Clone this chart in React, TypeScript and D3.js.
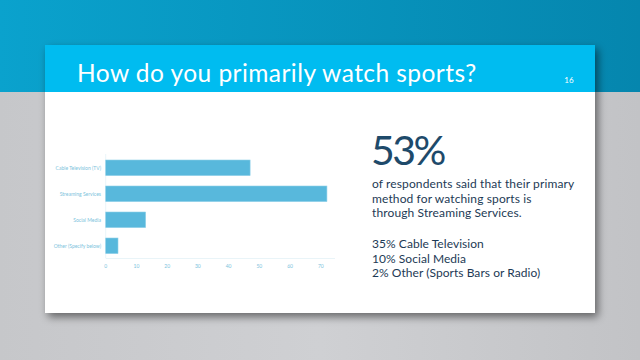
import React from "react";
import * as d3 from "d3";

const categories = ["Cable Television (TV)", "Streaming Services", "Social Media", "Other (Specify below)"];
const values = [47, 72, 13, 4];
const xTicks = [0, 10, 20, 30, 40, 50, 60, 70];

const title = "How do you primarily watch sports?";
const pageNumber = "16";
const bigStat = "53%";
const bodyLines = [
  "of respondents said that their primary",
  "method for watching sports is",
  "through Streaming Services.",
];
const otherLines = ["35% Cable Television", "10% Social Media", "2% Other (Sports Bars or Radio)"];

const W = 640;
const H = 360;

export default function App() {
  const x = d3.scaleLinear().domain([0, 73]).range([105.7, 330]);
  const y = d3
    .scaleBand<string>()
    .domain(categories)
    .range([154.8, 258.8])
    .paddingInner(0.4)
    .paddingOuter(0.2);

  const font = "Lato, 'Open Sans', sans-serif";
  const labelColor = "#7cc3dc";

  return (
    <svg
      width={W}
      height={H}
      style={{ position: "fixed", left: 0, top: 0, display: "block" }}
      fontFamily={font}
    >
      <defs>
        <linearGradient id="topBg" x1="0" x2="1" y1="0" y2="0">
          <stop offset="0" stopColor="#0aa2cd" />
          <stop offset="1" stopColor="#0586ae" />
        </linearGradient>
        <linearGradient id="greyBg" x1="0" x2="1" y1="0" y2="0">
          <stop offset="0" stopColor="#c6c7ca" />
          <stop offset="0.5" stopColor="#cfd0d3" />
          <stop offset="1" stopColor="#c2c3c6" />
        </linearGradient>
        <filter id="shadow" x="-10%" y="-10%" width="120%" height="125%">
          <feGaussianBlur in="SourceAlpha" stdDeviation="4" />
          <feOffset dx="3" dy="4" result="b" />
          <feComponentTransfer>
            <feFuncA type="linear" slope="0.5" />
          </feComponentTransfer>
          <feMerge>
            <feMergeNode />
            <feMergeNode in="SourceGraphic" />
          </feMerge>
        </filter>
      </defs>

      {/* background */}
      <rect x={0} y={0} width={W} height={92} fill="url(#topBg)" />
      <rect x={0} y={92} width={W} height={H - 92} fill="url(#greyBg)" />

      {/* card */}
      <rect x={45} y={45} width={550} height={268} fill="#ffffff" filter="url(#shadow)" />
      <rect x={45} y={45} width={550} height={47} fill="#00bcf0" />
      <text x={77} y={82} fill="#ffffff" fontSize={24.5} letterSpacing={0.45}>
        {title}
      </text>
      <text x={569} y={83} fill="#ffffff" fontSize={8} textAnchor="middle">
        {pageNumber}
      </text>

      {/* chart axes */}
      <line x1={x(0)} x2={x(0)} y1={154} y2={258} stroke="#e3f1f6" strokeWidth={0.8} />
      <line x1={x(0)} x2={x(73) + 5} y1={258.5} y2={258.5} stroke="#e3f1f6" strokeWidth={0.8} />

      {/* bars */}
      {categories.map((c, i) => (
        <g key={c}>
          <rect
            x={x(0)}
            y={y(c)!}
            width={x(values[i]) - x(0)}
            height={y.bandwidth()}
            fill="#58b8dc"
            stroke="#8fd0e8"
            strokeWidth={0.6}
          />
          <text
            x={101}
            y={y(c)! + y.bandwidth() / 2}
            dy="0.35em"
            textAnchor="end"
            fontSize={5}
            fill={labelColor}
          >
            {c}
          </text>
        </g>
      ))}

      {/* x tick labels */}
      {xTicks.map((t) => (
        <text key={t} x={x(t)} y={267.5} textAnchor="middle" fontSize={5} fill={labelColor}>
          {t}
        </text>
      ))}

      {/* right text */}
      <text x={371} y={165} fill="#1e4a6a" fontSize={41} letterSpacing={-2.5}>
        {bigStat}
      </text>
      {bodyLines.map((l, i) => (
        <text key={l} x={372} y={188 + i * 14.5} fill="#1d3a55" fontSize={12} letterSpacing={0.12}>
          {l}
        </text>
      ))}
      {otherLines.map((l, i) => (
        <text key={l} x={372} y={248 + i * 14.5} fill="#1d3a55" fontSize={12} letterSpacing={0.05}>
          {l}
        </text>
      ))}
    </svg>
  );
}
